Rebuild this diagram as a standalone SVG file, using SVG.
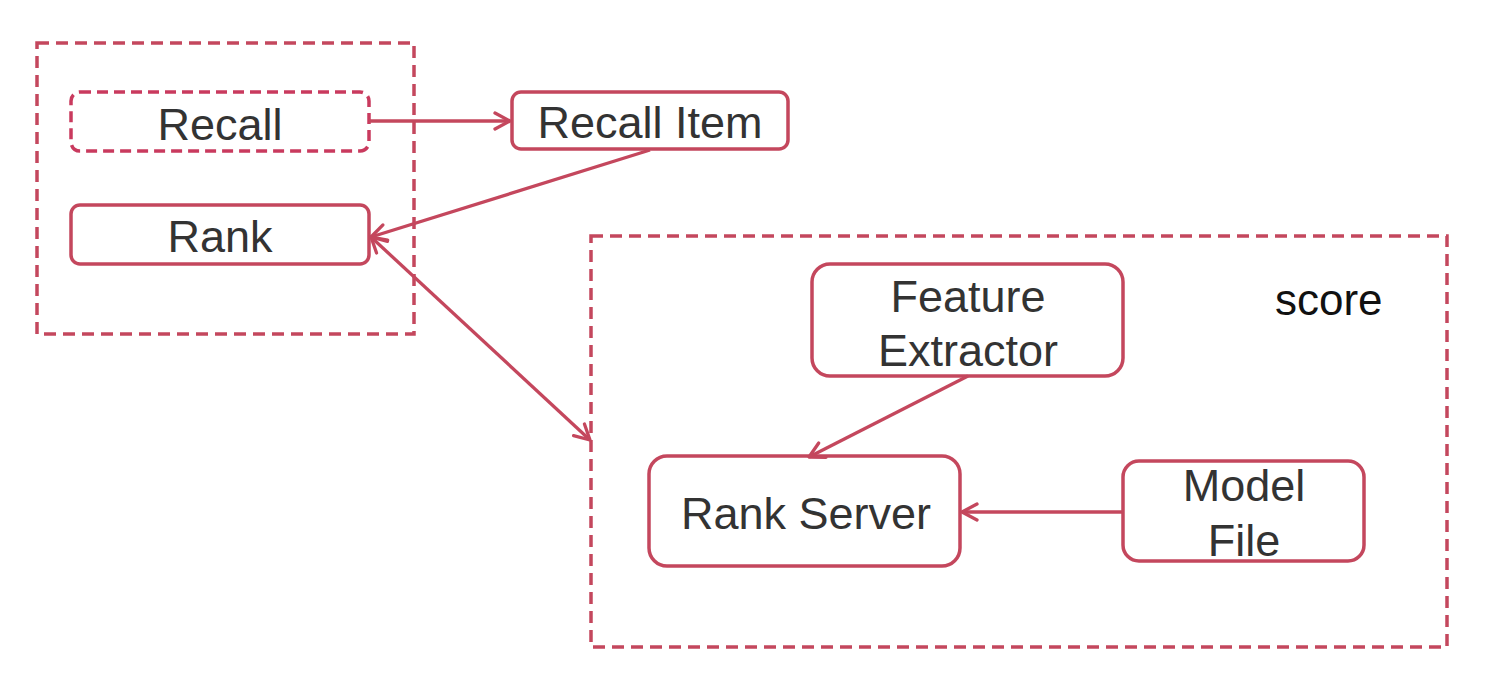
<svg xmlns="http://www.w3.org/2000/svg" width="1503" height="681" viewBox="0 0 1503 681">
<defs>
<style>
.box{fill:#fff;stroke:#c4475d;stroke-width:3.5}
.grp{fill:none;stroke:#c4475d;stroke-width:3.5;stroke-dasharray:12 7}
.dash{fill:#fff;stroke:#c93a5e;stroke-width:3.5;stroke-dasharray:11 6}
.t{font-family:"Liberation Sans",Arial,sans-serif;font-size:45px;fill:#333;text-anchor:middle}
.line{fill:none;stroke:#c4475d;stroke-width:3.3}
</style>
<marker id="ah" viewBox="0 0 22 22" refX="20" refY="11" markerWidth="22" markerHeight="22" markerUnits="userSpaceOnUse" orient="auto-start-reverse">
<path d="M5,3 L20,11 L5,19" fill="none" stroke="#c4475d" stroke-width="3.3" stroke-linecap="round" stroke-linejoin="round"/>
</marker>
</defs>
<rect width="1503" height="681" fill="#fff"/>
<g id="group-left"><rect class="grp" x="37" y="43" width="377" height="291"/></g>
<g id="group-score"><rect class="grp" x="591" y="236" width="856" height="411"/>
<text x="1275" y="315" style="font-family:'Liberation Sans',Arial,sans-serif;font-size:44px;fill:#111">score</text></g>
<g id="recall"><rect class="dash" x="71" y="92" width="298" height="59" rx="9"/><text class="t" x="220" y="140">Recall</text></g>
<g id="rank"><rect class="box" x="71" y="205" width="298" height="59" rx="9"/><text class="t" x="220" y="252">Rank</text></g>
<g id="recall-item"><rect class="box" x="512" y="92" width="276" height="57" rx="9"/><text class="t" x="650" y="138">Recall Item</text></g>
<g id="feature-extractor"><rect class="box" x="812" y="264" width="311" height="112" rx="18"/><text class="t" x="968" y="312">Feature<tspan x="968" y="366">Extractor</tspan></text></g>
<g id="rank-server"><rect class="box" x="649" y="456" width="311" height="110" rx="18"/><text class="t" x="806" y="529">Rank Server</text></g>
<g id="model-file"><rect class="box" x="1123" y="461" width="241" height="100" rx="16"/><text class="t" x="1244" y="501">Model<tspan x="1244" y="556">File</tspan></text></g>
<g id="connectors">
<line class="line" x1="369" y1="121" x2="510" y2="121" marker-end="url(#ah)"/>
<line class="line" x1="650" y1="150" x2="371" y2="237" marker-end="url(#ah)"/>
<line class="line" x1="371" y1="237" x2="590" y2="440" marker-start="url(#ah)" marker-end="url(#ah)"/>
<line class="line" x1="968" y1="376" x2="809" y2="457" marker-end="url(#ah)"/>
<line class="line" x1="1123" y1="512" x2="962" y2="512" marker-end="url(#ah)"/>
</g>
</svg>
